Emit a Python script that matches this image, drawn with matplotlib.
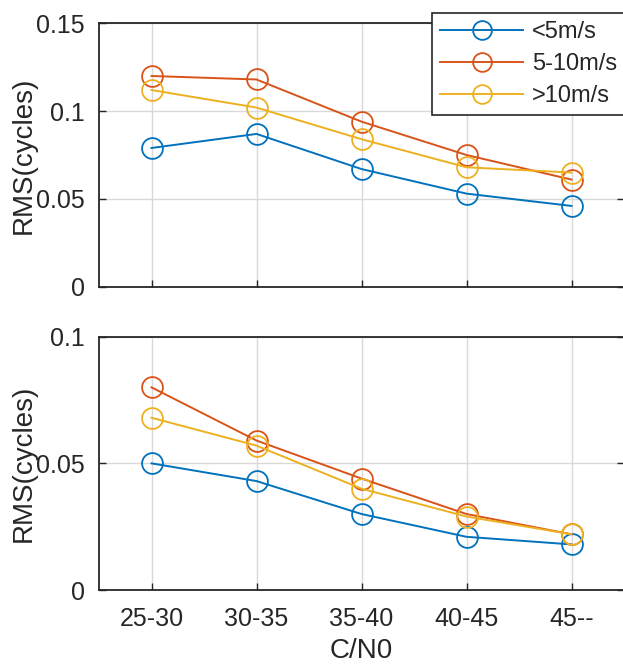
import matplotlib
matplotlib.use("Agg")
import matplotlib.pyplot as plt
import numpy as np

plt.rcParams['font.family'] = ['Liberation Sans', 'DejaVu Sans']

categories = ['25-30', '30-35', '35-40', '40-45', '45--']
series_labels = ['<5m/s', '5-10m/s', '>10m/s']

top_blue = [0.079, 0.087, 0.067, 0.053, 0.046]
top_red = [0.120, 0.118, 0.094, 0.075, 0.061]
top_yellow = [0.112, 0.102, 0.084, 0.068, 0.065]

bot_blue = [0.050, 0.043, 0.030, 0.021, 0.018]
bot_red = [0.080, 0.059, 0.044, 0.030, 0.022]
bot_yellow = [0.068, 0.057, 0.040, 0.029, 0.022]

top_yticks = [0, 0.05, 0.1, 0.15]
top_yticklabels = ['0', '0.05', '0.1', '0.15']
bot_yticks = [0, 0.05, 0.1]
bot_yticklabels = ['0', '0.05', '0.1']

colors = ['#0072BD', '#D95319', '#EDB120']

W, H = 623, 664
fig = plt.figure(figsize=(W / 100, H / 100), dpi=100)

def fx(px):
    return px / W

def fy(py):
    return 1 - py / H

ax1 = fig.add_axes([fx(99), fy(286.7), fx(624) - fx(99), fy(23.3) - fy(286.7)])
ax2 = fig.add_axes([fx(99), fy(590), fx(624) - fx(99), fy(336.7) - fy(590)])

x = np.arange(1, len(categories) + 1)
fs = 18
lfs = 20

def style(ax, yticks, ylabels, ylim):
    ax.set_xlim(0.5, 5.5)
    ax.set_ylim(*ylim)
    ax.set_xticks(x)
    ax.set_yticks(yticks)
    ax.set_yticklabels(ylabels)
    ax.grid(True, color='#d9d9d9', linewidth=1.0)
    ax.set_axisbelow(True)
    ax.tick_params(direction='in', length=5, width=1.0, labelsize=fs,
                   top=False, right=True, colors='#262626', labelcolor='#262626')
    ax.tick_params(axis='y', pad=10)
    ax.tick_params(axis='x', pad=12)
    for s in ax.spines.values():
        s.set_linewidth(1.3)
        s.set_color('#262626')
    ax.set_ylabel('RMS(cycles)', fontsize=lfs, color='#262626')
    ax.yaxis.set_label_coords((37 - 99) / 525, 0.5)

lines = []
for vals, c, lab in zip([top_blue, top_red, top_yellow], colors, series_labels):
    l, = ax1.plot(x, vals, '-o', color=c, linewidth=1.4, markersize=15,
                  markerfacecolor='none', markeredgewidth=1.3, label=lab)
    lines.append(l)
for vals, c, lab in zip([bot_blue, bot_red, bot_yellow], colors, series_labels):
    ax2.plot(x, vals, '-o', color=c, linewidth=1.4, markersize=15,
             markerfacecolor='none', markeredgewidth=1.3, label=lab)

style(ax1, top_yticks, top_yticklabels, (0, 0.15))
style(ax2, bot_yticks, bot_yticklabels, (0, 0.1))
ax1.set_xticklabels([])
ax2.set_xticklabels(categories)
ax2.set_xlabel('C/N0', fontsize=lfs, color='#262626', labelpad=5)

leg = fig.legend(handles=lines, loc='upper left', bbox_to_anchor=(fx(432), fy(13)),
                 bbox_transform=fig.transFigure, fontsize=17, frameon=True,
                 fancybox=False, edgecolor='#262626', framealpha=1,
                 handlelength=3.5, labelspacing=0.42, borderaxespad=0,
                 borderpad=0.35, handletextpad=0.4, markerscale=0.9)
leg.get_frame().set_linewidth(1.2)
for t in leg.get_texts():
    t.set_color('#262626')

fig.savefig('out.png', dpi=100)
